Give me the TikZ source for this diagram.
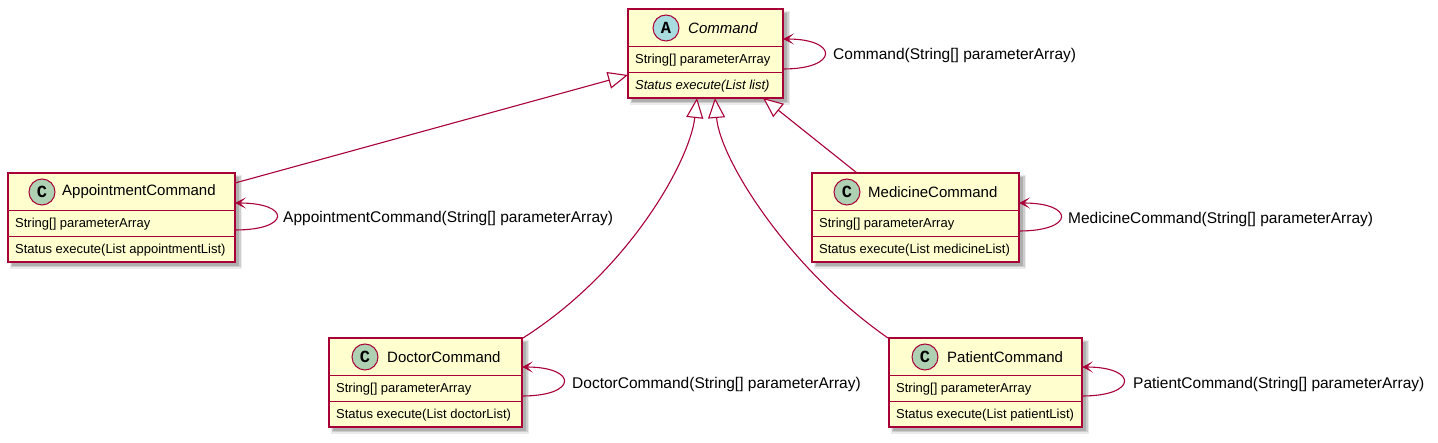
\documentclass[tikz,border=0pt]{standalone}
\usepackage{fontspec}
\setmainfont{Liberation Sans}
\newfontfamily\circfont{Liberation Mono}
\usetikzlibrary{arrows.meta}
\definecolor{umlred}{HTML}{A80036}
\definecolor{umlfill}{HTML}{FEFECE}
\definecolor{cgreen}{HTML}{ADD1B2}
\definecolor{ablue}{HTML}{A9DCDF}
\newcommand{\boxshadow}[4]{%
  \fill[black,opacity=0.08] (#1+2,#2+2) rectangle (#3+7,#4+7);
  \fill[black,opacity=0.12] (#1+3,#2+3) rectangle (#3+5.5,#4+5.5);
  \fill[black,opacity=0.15] (#1+4,#2+4) rectangle (#3+4,#4+4);
}
\tikzset{
 clsbox/.style={draw=umlred, fill=umlfill, line width=1.3pt, inner sep=0pt, outer sep=0pt, anchor=north west},
 divline/.style={draw=umlred, line width=1pt},
 circ/.style={circle, draw=umlred, line width=1pt, minimum size=26pt, inner sep=0pt, font=\circfont\bfseries\fontsize{17}{17}\selectfont},
 cname/.style={anchor=west, inner sep=0pt, font=\fontsize{15}{18}\selectfont},
 member/.style={anchor=west, inner sep=0pt, font=\fontsize{13}{15}\selectfont},
 selfloop/.style={draw=umlred, line width=1.1pt, -{Stealth[length=11pt,width=11pt,inset=6pt]}},
 looplabel/.style={anchor=west, inner sep=0pt, font=\fontsize{15.5}{18}\selectfont},
 inherit/.style={draw=umlred, line width=1.1pt, -{Triangle[open, length=20pt, width=17pt, fill=white]}},
}
\begin{document}
\begin{tikzpicture}[x=1pt, y=-1pt]
\useasboundingbox (0,0) rectangle (1438,443);

% shadows
\boxshadow{628}{9}{783}{98}
\boxshadow{8}{173}{235}{262}
\boxshadow{329}{338}{522}{427}
\boxshadow{812}{173}{1019}{262}
\boxshadow{889}{338}{1082}{427}

% class boxes
\node[clsbox, minimum width=155pt, minimum height=89pt] (cmd) at (628,9) {};
\node[clsbox, minimum width=227pt, minimum height=89pt] (app) at (8,173) {};
\node[clsbox, minimum width=193pt, minimum height=89pt] (doc) at (329,338) {};
\node[clsbox, minimum width=207pt, minimum height=89pt] (med) at (812,173) {};
\node[clsbox, minimum width=193pt, minimum height=89pt] (pat) at (889,338) {};

% dividers
\draw[divline] (628,47) -- (783,47) (628,73) -- (783,73);
\draw[divline] (8,211) -- (235,211) (8,237) -- (235,237);
\draw[divline] (329,376) -- (522,376) (329,402) -- (522,402);
\draw[divline] (812,211) -- (1019,211) (812,237) -- (1019,237);
\draw[divline] (889,376) -- (1082,376) (889,402) -- (1082,402);

% headers
\node[circ, fill=ablue] (cmdc) at (666,28) {A};
\node[cname] (cmdn) at (688,28) {\itshape Command};
\node[circ, fill=cgreen] (appc) at (42,192) {C};
\node[cname] (appn) at (62,192) {AppointmentCommand};
\node[circ, fill=cgreen] (docc) at (365,357) {C};
\node[cname] (docn) at (387,357) {DoctorCommand};
\node[circ, fill=cgreen] (medc) at (847,192) {C};
\node[cname] (medn) at (868,192) {MedicineCommand};
\node[circ, fill=cgreen] (patc) at (925,357) {C};
\node[cname] (patn) at (947,357) {PatientCommand};

% members
\node[member] (cmda) at (635,60) {String[] parameterArray};
\node[member] (cmdm) at (635,86) {\itshape Status execute(List list)};
\node[member] (appa) at (15,224) {String[] parameterArray};
\node[member] (appm) at (15,250) {Status execute(List appointmentList)};
\node[member] (doca) at (336,389) {String[] parameterArray};
\node[member] (docm) at (336,415) {Status execute(List doctorList)};
\node[member] (meda) at (819,224) {String[] parameterArray};
\node[member] (medm) at (819,250) {Status execute(List medicineList)};
\node[member] (pata) at (896,389) {String[] parameterArray};
\node[member] (patm) at (896,415) {Status execute(List patientList)};

% connector endpoints
\coordinate (cmdIn) at (783,39);  \coordinate (cmdOut) at (783,69);
\coordinate (appIn) at (235,203); \coordinate (appOut) at (235,230);
\coordinate (docIn) at (522,367); \coordinate (docOut) at (522,396);
\coordinate (medIn) at (1019,203); \coordinate (medOut) at (1019,231);
\coordinate (patIn) at (1082,367); \coordinate (patOut) at (1082,396);

% self loops
\draw[selfloop] (cmdOut) .. controls (839,69) and (839,39) .. (cmdIn);
\draw[selfloop] (appOut) .. controls (291,230) and (291,203) .. (appIn);
\draw[selfloop] (docOut) .. controls (578,396) and (578,367) .. (docIn);
\draw[selfloop] (medOut) .. controls (1075,231) and (1075,203) .. (medIn);
\draw[selfloop] (patOut) .. controls (1138,396) and (1138,367) .. (patIn);

\node[looplabel] (cmdl) at (833,55) {Command(String[] parameterArray)};
\node[looplabel] (appl) at (283,218) {AppointmentCommand(String[] parameterArray)};
\node[looplabel] (docl) at (572,384) {DoctorCommand(String[] parameterArray)};
\node[looplabel] (medl) at (1068,219) {MedicineCommand(String[] parameterArray)};
\node[looplabel] (patl) at (1133,384) {PatientCommand(String[] parameterArray)};

% inheritance
\coordinate (appTop) at (235,183);  \coordinate (cmdL) at (628,75);
\coordinate (docTop) at (523,338);  \coordinate (cmdB1) at (697,98);
\coordinate (patTop) at (888,338);  \coordinate (cmdB2) at (715,98);
\coordinate (medTop) at (857,173);  \coordinate (cmdB3) at (763,98);
\draw[inherit] (appTop) -- (cmdL);
\draw[inherit] (docTop) .. controls (630,270) and (690,160) .. (cmdB1);
\draw[inherit] (patTop) .. controls (790,270) and (720,160) .. (cmdB2);
\draw[inherit] (medTop) -- (cmdB3);
\end{tikzpicture}
\end{document}
